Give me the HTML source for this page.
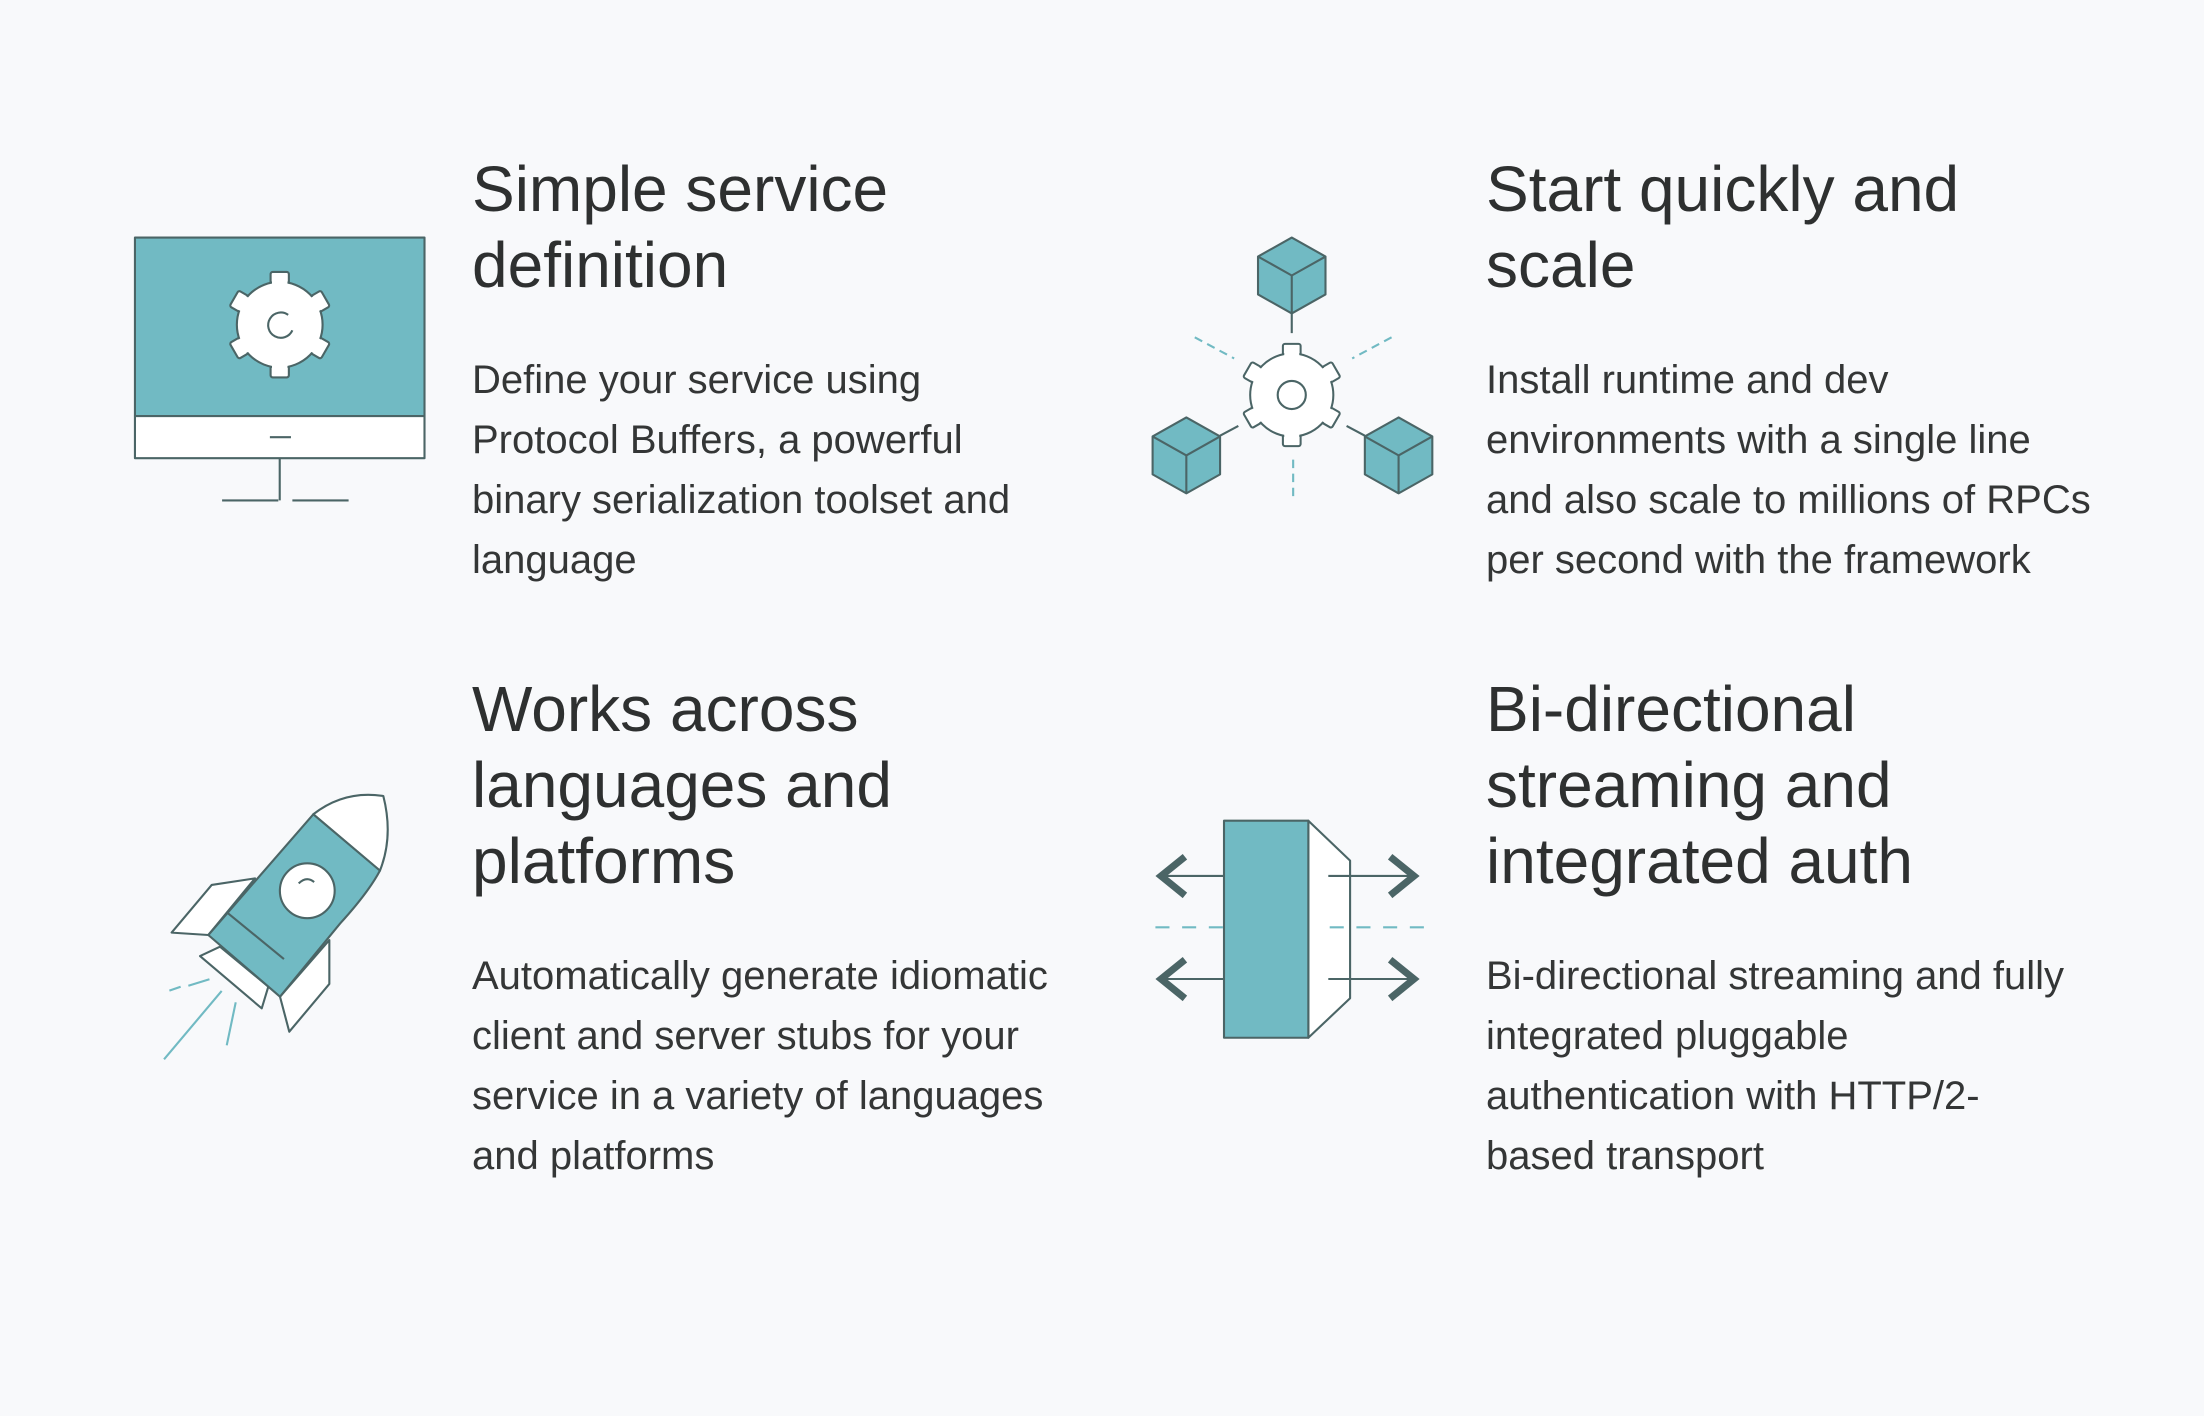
<!DOCTYPE html>
<html><head><meta charset="utf-8"><style>
html,body{margin:0;padding:0;}
body{width:2204px;height:1416px;background:#f8f9fb;position:relative;overflow:hidden;font-family:"Liberation Sans",sans-serif;color:#2e3030;}
.h{position:absolute;font-size:64px;line-height:76px;white-space:nowrap;}
.b{position:absolute;font-size:40px;line-height:60px;white-space:nowrap;color:#343636;}
svg{position:absolute;left:0;top:0;}
</style></head><body>
<svg width="2204" height="1416" viewBox="0 0 1568 1007.4" fill="none" stroke="#4b6566" stroke-width="1.5" stroke-linejoin="round">
<defs>
<g id="gear">
  <g fill="#fff">
    <rect x="-6.5" y="-37.5" width="13" height="12" rx="1.5"/>
    <rect x="-6.5" y="-37.5" width="13" height="12" rx="1.5" transform="rotate(60)"/>
    <rect x="-6.5" y="-37.5" width="13" height="12" rx="1.5" transform="rotate(120)"/>
    <rect x="-6.5" y="-37.5" width="13" height="12" rx="1.5" transform="rotate(180)"/>
    <rect x="-6.5" y="-37.5" width="13" height="12" rx="1.5" transform="rotate(240)"/>
    <rect x="-6.5" y="-37.5" width="13" height="12" rx="1.5" transform="rotate(300)"/>
    <circle r="30.5"/>
  </g>
  <g fill="#fff" stroke="none">
    <rect x="-5.5" y="-36.5" width="11" height="10"/>
    <rect x="-5.5" y="-36.5" width="11" height="10" transform="rotate(60)"/>
    <rect x="-5.5" y="-36.5" width="11" height="10" transform="rotate(120)"/>
    <rect x="-5.5" y="-36.5" width="11" height="10" transform="rotate(180)"/>
    <rect x="-5.5" y="-36.5" width="11" height="10" transform="rotate(240)"/>
    <rect x="-5.5" y="-36.5" width="11" height="10" transform="rotate(300)"/>
  </g>
</g>
<g id="cube">
  <path d="M0,-27 L24,-13.5 L24,13.5 L0,27 L-24,13.5 L-24,-13.5 Z" fill="#71bac3"/>
  <path d="M-24,-13.5 L0,0 L24,-13.5 M0,0 L0,27"/>
</g>
</defs>
<!-- Monitor -->
<rect x="96" y="169" width="206" height="127" fill="#71bac3"/>
<rect x="96" y="296" width="206" height="30" fill="#fff"/>
<line x1="192" y1="311" x2="207" y2="311"/>
<path d="M199,326 V356 M158,356 H198 M208,356 H248"/>
<use href="#gear" transform="translate(199,231)"/>
<path d="M205,224 A9,9 0 1 0 208,235" />
<!-- Cubes and gear -->
<use href="#cube" transform="translate(919,196)"/>
<use href="#cube" transform="translate(844,324)"/>
<use href="#cube" transform="translate(995,324)"/>
<path d="M919,223 V237 M868,310 L881,303 M958,303 L971,310"/>
<use href="#gear" transform="translate(919,281) scale(0.97)"/>
<circle cx="919" cy="281" r="10"/>
<g stroke="#71bac3" stroke-dasharray="6,4">
  <path d="M850,240 L878,255 M990,240 L962,255 M920,327 V356"/>
</g>
<!-- Rocket -->
<path d="M181.4,624.9 L150.6,629.6 L122.1,663.5 L148.2,665.2 Z" fill="#fff"/>
<path d="M156.5,673.5 L142.3,680.2 L186.2,717.4 L190.9,701.9 Z" fill="#fff"/>
<path d="M234.3,668.8 L234.3,700 L205.8,734 L199.2,709.1 Z" fill="#fff"/>
<path d="M222.9,579.3 Q245,562 272.7,566.3 Q280,595 270.3,619.4 Z" fill="#fff"/>
<path d="M222.9,579.3 L270.3,619.4 Q262,635 242,657 L199.2,709.1 L148.2,665.2 Z" fill="#71bac3"/>
<line x1="161.7" y1="649.3" x2="202" y2="682.3"/>
<circle cx="218.6" cy="633.7" r="19.5" fill="#fff"/>
<path d="M212.5,628.5 Q218,623 223.5,627.5"/>
<g stroke="#71bac3">
  <path d="M120.5,704.8 L128.5,702 M134,701.3 L149,696.7 M157.7,705 L116.7,753.6 M167.7,713.1 L161.3,743.7"/>
</g>
<!-- Bidirectional -->
<path d="M930.8,583.9 L960.5,612.3 L960.5,710.2 L930.8,738.3 Z" fill="#fff"/>
<rect x="870.8" y="583.9" width="60" height="154.4" fill="#71bac3"/>
<path d="M823,623.2 H870.8 M823,696.5 H870.8 M945,623.2 H1008 M945,696.5 H1008"/>
<g stroke-width="5" stroke-linejoin="miter" stroke-linecap="butt">
  <path d="M843,609.5 L826,623.2 L843,637 M843,682.8 L826,696.5 L843,710.3"/>
  <path d="M989,609.5 L1006,623.2 L989,637 M989,682.8 L1006,696.5 L989,710.3"/>
</g>
<g stroke="#71bac3" stroke-dasharray="10,9">
  <path d="M822,659.7 H870 M946,659.7 H1022"/>
</g>
</svg>

<div class="h" style="left:472px;top:151px;">Simple service<br>definition</div>
<div class="b" style="left:472px;top:350px;">Define your service using<br>Protocol Buffers, a powerful<br>binary serialization toolset and<br>language</div>

<div class="h" style="left:1486px;top:151px;">Start quickly and<br>scale</div>
<div class="b" style="left:1486px;top:350px;">Install runtime and dev<br>environments with a single line<br>and also scale to millions of RPCs<br>per second with the framework</div>

<div class="h" style="left:472px;top:671px;">Works across<br>languages and<br>platforms</div>
<div class="b" style="left:472px;top:946px;">Automatically generate idiomatic<br>client and server stubs for your<br>service in a variety of languages<br>and platforms</div>

<div class="h" style="left:1486px;top:671px;">Bi-directional<br>streaming and<br>integrated auth</div>
<div class="b" style="left:1486px;top:946px;">Bi-directional streaming and fully<br>integrated pluggable<br>authentication with HTTP/2-<br>based transport</div>
</body></html>
